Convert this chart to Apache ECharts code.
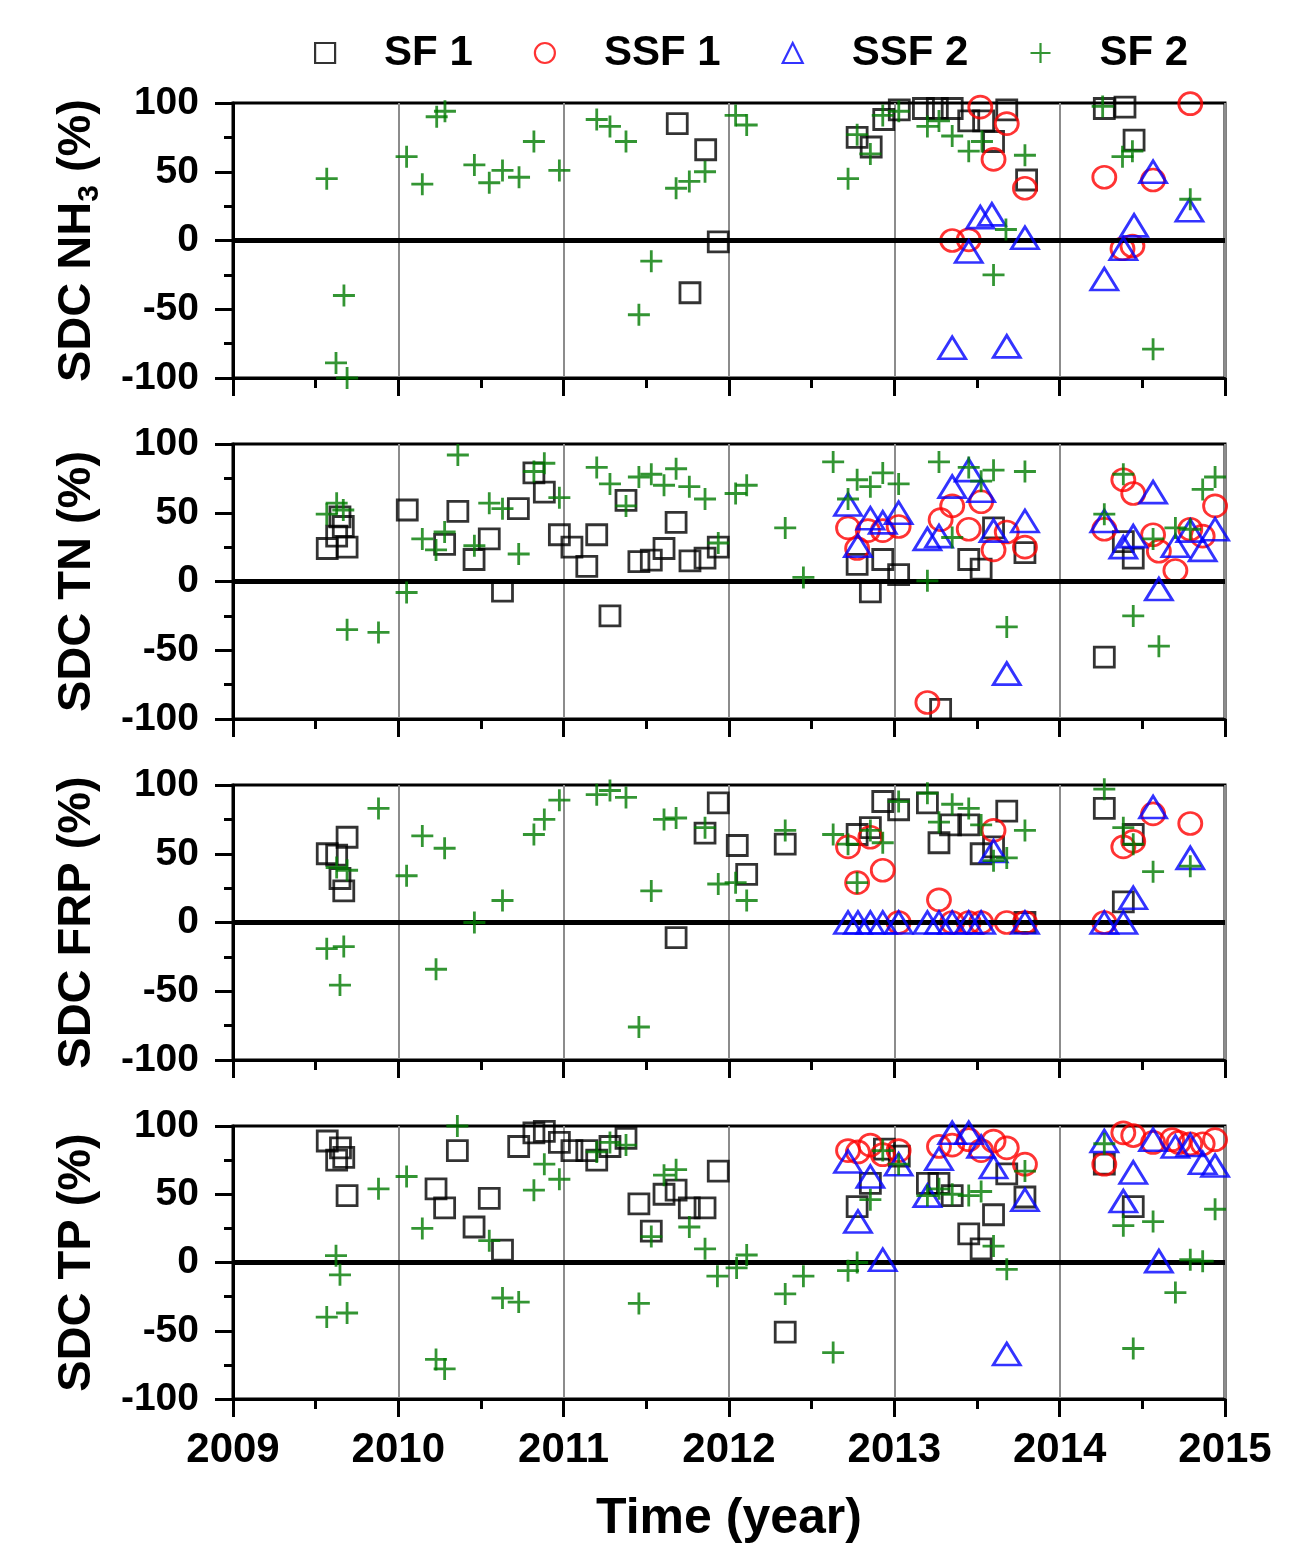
<!DOCTYPE html>
<html>
<head>
<meta charset="utf-8">
<script src="https://cdn.jsdelivr.net/npm/echarts@6/dist/echarts.min.js"></script>
<style>html,body{margin:0;padding:0;background:#fff;}#chart{width:1312px;height:1545px;}</style>
</head>
<body>
<div id="chart"></div>
<script>
// ---- tick labels / categories ----
const seriesNames = ['SF 1', 'SSF 1', 'SSF 2', 'SF 2'];
const xTicks = [2009, 2010, 2011, 2012, 2013, 2014, 2015];
const yTicks = [-100, -50, 0, 50, 100];
const panelTitles = ['{a|SDC NH}{s|3}{a| (%)}', '{a|SDC TN (%)}', '{a|SDC FRP (%)}', '{a|SDC TP (%)}'];

// ---- Panel 1: SDC NH3 ----
const nh3_sf1 = [[2011.687,85],[2011.859,66],[2011.935,-1],[2011.764,-38],[2012.775,75],[2012.86,68],[2012.936,88],[2013.03,95],[2013.176,96],[2013.26,96],[2013.35,96],[2013.45,87],[2013.54,87],[2013.68,95],[2013.6,72],[2013.8,44],[2014.27,96],[2014.395,97],[2014.45,73]];
const nh3_ssf1 = [[2013.52,97],[2013.68,85],[2013.6,59],[2013.79,38],[2013.35,0],[2013.45,0.5],[2014.27,46],[2014.565,44],[2014.38,-6],[2014.44,-4],[2014.79,99.5]];
const nh3_ssf2 = [[2013.52,17],[2013.59,19],[2013.45,-8],[2013.79,2],[2013.35,-78],[2013.68,-77],[2014.565,50],[2014.785,22],[2014.45,11],[2014.385,-6],[2014.27,-28]];
const nh3_sf2 = [[2009.567,45],[2009.671,-40],[2009.623,-89],[2009.69,-100],[2010.232,90],[2010.282,94],[2010.05,61],[2010.145,41],[2010.46,55],[2010.55,42],[2010.63,51],[2010.73,46],[2010.82,72],[2010.974,51],[2011.2,88],[2011.28,83],[2011.377,72],[2011.68,38],[2011.76,43],[2011.855,50],[2011.53,-15],[2011.455,-54],[2012.04,91],[2012.107,84],[2012.72,45],[2012.775,77],[2012.855,63],[2012.93,91],[2013.027,94],[2013.2,83],[2013.27,87],[2013.35,76],[2013.45,65],[2013.53,72],[2013.79,62],[2013.675,8],[2013.6,-25],[2014.26,97.5],[2014.38,61],[2014.44,65],[2014.79,30],[2014.565,-79]];

// ---- Panel 2: SDC TN ----
const tn_sf1 = [[2009.57,24],[2009.627,33],[2009.667,40],[2009.69,25],[2009.647,47],[2010.054,52],[2010.36,51],[2010.28,27],[2010.458,16],[2010.55,31],[2010.726,53],[2010.82,79],[2010.883,65],[2010.63,-7],[2010.974,34],[2011.05,25],[2011.14,11],[2011.2,34],[2011.377,59],[2011.28,-25],[2011.455,14.5],[2011.53,15.5],[2011.607,24],[2011.68,43],[2011.764,15],[2011.855,17],[2011.935,25],[2012.775,12.5],[2012.855,-7.5],[2012.93,16],[2013.026,5],[2013.28,-93],[2013.45,16],[2013.525,9],[2013.6,39],[2013.79,21],[2014.27,-55],[2014.385,29],[2014.445,17]];
const tn_ssf1 = [[2012.72,39],[2012.775,24],[2012.84,37],[2012.93,37],[2013.026,40],[2013.28,45],[2013.35,55],[2013.45,38],[2013.525,58],[2013.68,36],[2013.6,23],[2013.79,25],[2013.2,-88],[2014.385,74],[2014.445,64],[2014.27,38],[2014.565,34],[2014.6,22],[2014.7,8],[2014.79,38],[2014.865,33],[2014.94,55]];
const tn_ssf2 = [[2012.72,56],[2012.78,26],[2012.855,46],[2012.93,43],[2013.026,50],[2013.2,31],[2013.27,33],[2013.35,69],[2013.45,81],[2013.525,66],[2013.6,37],[2013.79,44],[2013.68,-67],[2014.27,44],[2014.385,25],[2014.445,33],[2014.565,65],[2014.6,-5.5],[2014.7,26],[2014.79,37],[2014.865,23],[2014.94,38]];
const tn_sf2 = [[2009.567,49],[2009.627,57],[2009.667,52],[2009.69,-35],[2009.88,-37],[2010.05,-8],[2010.36,92],[2010.145,31],[2010.228,23],[2010.28,36],[2010.46,26],[2010.55,57],[2010.63,53],[2010.728,20],[2010.82,80],[2010.883,86],[2010.974,61],[2011.2,83],[2011.28,71],[2011.377,55],[2011.455,76],[2011.53,78],[2011.607,70],[2011.68,82],[2011.76,69],[2011.855,60],[2011.935,28],[2012.04,64],[2012.107,70],[2012.34,39],[2012.45,3],[2012.63,87],[2012.72,60],[2012.775,74],[2012.855,69],[2012.93,79],[2013.026,71],[2013.2,0.5],[2013.27,87],[2013.35,32],[2013.45,83],[2013.525,73],[2013.6,81],[2013.79,80],[2013.68,-33],[2014.385,78],[2014.27,49],[2014.445,-25],[2014.6,-47],[2014.565,31],[2014.7,39],[2014.79,38],[2014.865,67],[2014.94,76]];

// ---- Panel 3: SDC FRP ----
const frp_sf1 = [[2009.57,50],[2009.627,49],[2009.69,62],[2009.647,32],[2009.67,23],[2011.935,87],[2011.855,65],[2011.68,-11],[2012.05,56],[2012.107,35],[2012.34,57],[2012.775,64],[2012.855,69],[2012.93,88],[2013.026,82],[2013.2,87],[2013.27,58],[2013.34,71],[2013.45,71],[2013.525,50],[2013.6,55],[2013.68,81],[2013.79,0],[2014.27,83],[2014.445,64],[2014.385,15]];
const frp_ssf1 = [[2012.72,55],[2012.775,29],[2012.855,62],[2012.93,38],[2013.026,0],[2013.27,16.5],[2013.35,0],[2013.45,0],[2013.525,0],[2013.6,67],[2013.68,0],[2013.79,0],[2014.27,0],[2014.385,55],[2014.445,59],[2014.565,79],[2014.79,72]];
const frp_ssf2 = [[2012.72,0],[2012.78,0],[2012.855,0],[2012.93,0],[2013.026,0],[2013.2,0],[2013.27,0],[2013.35,0],[2013.45,0],[2013.525,0],[2013.79,0],[2014.27,0],[2014.385,0],[2013.6,52],[2014.445,18],[2014.565,84],[2014.79,47]];
const frp_sf2 = [[2009.567,-19],[2009.67,-17.5],[2009.647,-45.5],[2009.627,40],[2009.69,38],[2009.88,83],[2010.05,34],[2010.145,63],[2010.28,54],[2010.228,-34],[2010.46,0],[2010.63,16],[2010.82,64],[2010.883,75],[2010.974,89],[2011.2,93],[2011.28,96],[2011.377,91],[2011.53,23],[2011.455,-76],[2011.607,75],[2011.68,76],[2011.855,69],[2011.935,28],[2012.04,29],[2012.107,16],[2012.34,67],[2012.63,64],[2012.72,57],[2012.775,29],[2012.855,67],[2012.93,58],[2013.026,88],[2013.2,94],[2013.27,73],[2013.35,86],[2013.45,83],[2013.525,71],[2013.6,45],[2013.68,47],[2013.79,67],[2014.27,97],[2014.385,69],[2014.445,57],[2014.565,37],[2014.79,41]];

// ---- Panel 4: SDC TP ----
const tp_sf1 = [[2009.57,89],[2009.65,84],[2009.627,75],[2009.67,77],[2009.69,49],[2010.357,82],[2010.228,54],[2010.28,40],[2010.458,26],[2010.55,47],[2010.63,9],[2010.728,85],[2010.82,95],[2010.883,96],[2010.974,88],[2011.05,82],[2011.14,82],[2011.2,75],[2011.28,85],[2011.377,91],[2011.455,43],[2011.53,23],[2011.607,50],[2011.68,53],[2011.76,40],[2011.855,40],[2011.935,67],[2012.34,-51],[2012.775,41],[2012.855,58],[2012.94,83],[2013.03,78],[2013.2,58],[2013.27,58],[2013.35,49],[2013.45,21],[2013.525,10],[2013.6,35],[2013.68,65],[2013.79,48],[2014.27,72],[2014.445,41]];
const tp_ssf1 = [[2012.72,82],[2012.78,81],[2012.855,86],[2012.93,79],[2013.026,82],[2013.27,85],[2013.35,86],[2013.45,90],[2013.525,82],[2013.6,89],[2013.68,84],[2013.79,72],[2014.27,72],[2014.385,95],[2014.445,93],[2014.565,88],[2014.68,90],[2014.72,88],[2014.79,87],[2014.865,87],[2014.94,90]];
const tp_ssf2 = [[2012.72,74],[2012.855,63],[2012.78,30],[2012.93,2],[2013.026,72],[2013.2,49],[2013.27,76],[2013.35,95],[2013.45,95],[2013.525,85],[2013.6,70],[2013.79,46],[2013.68,-67],[2014.27,89],[2014.385,45],[2014.445,66],[2014.565,90],[2014.6,1],[2014.7,85],[2014.79,86],[2014.865,73],[2014.94,71]];
const tp_sf2 = [[2009.623,5],[2009.647,-9],[2009.567,-40],[2009.69,-37],[2009.88,54],[2010.05,63],[2010.145,25],[2010.357,100],[2010.228,-71],[2010.28,-78],[2010.55,16],[2010.63,-26],[2010.728,-29],[2010.82,53],[2010.883,72],[2010.974,61],[2011.2,81],[2011.28,88],[2011.377,86],[2011.455,-30],[2011.53,19],[2011.607,64],[2011.68,68],[2011.76,26],[2011.855,10],[2011.93,-10],[2012.046,-4],[2012.107,5.5],[2012.34,-23],[2012.45,-10],[2012.63,-66],[2012.72,-6],[2012.775,0],[2012.855,46],[2012.93,82],[2013.026,72],[2013.2,49],[2013.27,54],[2013.35,50],[2013.45,49],[2013.525,52],[2013.6,12],[2013.68,-5],[2013.79,67],[2014.27,87],[2014.385,27],[2014.565,30],[2014.445,-63],[2014.7,-22],[2014.79,2],[2014.865,1],[2014.94,39]];

const panels = [
  [nh3_sf1, nh3_ssf1, nh3_ssf2, nh3_sf2],
  [tn_sf1, tn_ssf1, tn_ssf2, tn_sf2],
  [frp_sf1, frp_ssf1, frp_ssf2, frp_sf2],
  [tp_sf1, tp_ssf1, tp_ssf2, tp_sf2]
];

const FONT = "'Liberation Sans', Arial, sans-serif";
const styles = [
  {symbol: 'rect', symbolSize: 20, color: '#000000'},
  {symbol: 'circle', symbolSize: [23, 22], color: '#ff0000'},
  {symbol: 'triangle', symbolSize: [27, 22], color: '#0000ff'},
  {symbol: 'path://M0,10L20,10M10,0L10,20', symbolSize: 22, color: '#007a00'}
];

const gridTops = [103, 444, 785, 1126];
const grids = [], xAxes = [], yAxes = [], series = [];
gridTops.forEach((top, i) => {
  grids.push({left: 233, top: top, width: 992, height: 275, show: true, borderColor: '#000', borderWidth: 3, backgroundColor: 'transparent'});
  xAxes.push({
    gridIndex: i, type: 'value', min: xTicks[0], max: xTicks[xTicks.length - 1], interval: 1,
    axisLine: {show: true, onZero: false, lineStyle: {color: '#000', width: 3}},
    axisTick: {show: true, length: 18, lineStyle: {color: '#000', width: 3}},
    minorTick: {show: true, splitNumber: 2, length: 10, lineStyle: {color: '#000', width: 3}},
    splitLine: {show: true, lineStyle: {color: '#8c8c8c', width: 2}},
    axisLabel: {show: i === 3, color: '#000', fontSize: 42, fontWeight: 'bold', fontFamily: FONT, margin: 30,
      formatter: v => (xTicks.indexOf(v) >= 0 ? String(v) : '')},
    name: i === 3 ? 'Time (year)' : '', nameLocation: 'middle', nameGap: 95,
    nameTextStyle: {color: '#000', fontSize: 50, fontWeight: 'bold', fontFamily: FONT}
  });
  yAxes.push({
    gridIndex: i, type: 'value', min: yTicks[0], max: yTicks[yTicks.length - 1], interval: 50,
    axisLine: {show: true, lineStyle: {color: '#000', width: 3}},
    axisTick: {show: true, length: 18, lineStyle: {color: '#000', width: 3}},
    minorTick: {show: true, splitNumber: 2, length: 9, lineStyle: {color: '#000', width: 3}},
    splitLine: {show: false},
    axisLabel: {color: '#000', fontSize: 39, fontWeight: 'bold', fontFamily: FONT, margin: 34},
    name: panelTitles[i], nameLocation: 'middle', nameGap: 128,
    nameTextStyle: {
      color: '#000', fontFamily: FONT,
      rich: {
        a: {fontSize: 47, fontWeight: 'bold', fontFamily: FONT, color: '#000', lineHeight: 56},
        s: {fontSize: 30, fontWeight: 'bold', fontFamily: FONT, color: '#000', lineHeight: 30, verticalAlign: 'bottom'}
      }
    }
  });
  panels[i].forEach((data, k) => {
    const st = styles[k];
    const s = {
      name: seriesNames[k], type: 'scatter', xAxisIndex: i, yAxisIndex: i, data: data,
      symbol: st.symbol, symbolSize: st.symbolSize,
      itemStyle: {color: 'rgba(0,0,0,0)', borderColor: st.color, borderWidth: 2.8},
      emphasis: {disabled: true}, z: 3 + k
    };
    if (k === 0) {
      s.markLine = {
        silent: true, symbol: ['none', 'none'], label: {show: false}, animation: false,
        lineStyle: {color: '#000', width: 5, type: 'solid'}, emphasis: {disabled: true},
        data: [{yAxis: 0}]
      };
    }
    series.push(s);
  });
});

const chart = echarts.init(document.getElementById('chart'), null, {renderer: 'canvas'});
chart.setOption({
  animation: false,
  backgroundColor: '#fff',
  legend: {
    data: seriesNames, left: 309, top: 27, orient: 'horizontal',
    itemWidth: 20, itemHeight: 20, itemGap: 61,
    itemStyle: {borderWidth: 2.2},
    textStyle: {color: '#000', fontSize: 42, fontWeight: 'bold', fontFamily: FONT, padding: [0, 0, 0, 44]}
  },
  grid: grids, xAxis: xAxes, yAxis: yAxes, series: series
});
</script>
</body>
</html>
